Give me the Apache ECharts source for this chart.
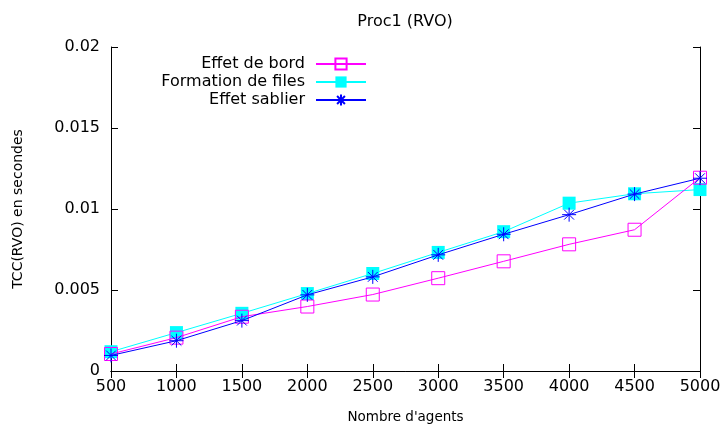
<!DOCTYPE html>
<html><head><meta charset="utf-8">
<script src="https://cdn.jsdelivr.net/npm/echarts@6/dist/echarts.min.js"></script>
<style>html,body{margin:0;padding:0;background:#fff}#c{width:723px;height:426px}</style>
</head><body><div id="c"></div>
<script>
const agents = [500,1000,1500,2000,2500,3000,3500,4000,4500,5000];
const effetDeBord = [0.00105,0.00206,0.00335,0.00398,0.00472,0.00573,0.00677,0.00782,0.00872,0.01193];
const formationDeFiles = [0.00119,0.00237,0.00356,0.00478,0.00602,0.00732,0.0086,0.01036,0.01094,0.0112];
const effetSablier = [0.00096,0.00187,0.00311,0.0047,0.00581,0.00717,0.00844,0.00965,0.01092,0.0119];
const seriesNames = ['Effet de bord','Formation de files','Effet sablier'];
const title = 'Proc1 (RVO)';
const xName = "Nombre d'agents";
const yName = 'TCC(RVO) en secondes';

const font = 'DejaVu Sans';
const asterisk = 'path://M0 -1L0 1M-1 0L1 0M-0.7 -0.7L0.7 0.7M-0.7 0.7L0.7 -0.7';
const pair = arr => agents.map((a,i)=>[a,arr[i]]);
const axisCommon = {
  axisLine:{show:true,lineStyle:{color:'#000',width:1}},
  axisTick:{show:true,inside:true,length:7,lineStyle:{color:'#000'}},
  splitLine:{show:false}
};
const chart = echarts.init(document.getElementById('c'));
chart.setOption({
  animation:false,
  backgroundColor:'#fff',
  title:{text:title,left:400,top:9,textAlign:'center',textStyle:{fontFamily:font,fontSize:16,fontWeight:'normal',color:'#000'}},
  grid:{left:111,right:23,top:47,bottom:55,outerBoundsMode:'none',containLabel:false},
  legend:{orient:'vertical',right:351,top:51,align:'right',itemWidth:50,itemHeight:14,itemGap:2,
    textStyle:{fontFamily:font,fontSize:16,color:'#000',padding:[0,6,0,0]},
    data:seriesNames},
  xAxis:[
    Object.assign({type:'value',min:500,max:5000,interval:500,name:xName,nameLocation:'middle',nameGap:39,
      nameTextStyle:{fontFamily:font,fontSize:13.5,color:'#000'},
      axisLabel:{fontFamily:font,fontSize:16,color:'#000',margin:8,formatter:v=>String(v)}},axisCommon),
    Object.assign({type:'value',position:'top',min:500,max:5000,interval:500,axisLabel:{show:false}},axisCommon)
  ],
  yAxis:[
    Object.assign({type:'value',min:0,max:0.02,interval:0.005,name:yName,nameLocation:'middle',nameGap:86,
      nameTextStyle:{fontFamily:font,fontSize:14,color:'#000'},
      axisLabel:{fontFamily:font,fontSize:16,color:'#000',margin:11,formatter:v=>String(Number(v.toFixed(4)))}},axisCommon),
    Object.assign({type:'value',position:'right',min:0,max:0.02,interval:0.005,axisLabel:{show:false}},axisCommon)
  ],
  series:[
    {name:seriesNames[0],type:'line',data:pair(effetDeBord),symbol:'rect',symbolSize:13,z:3,
      lineStyle:{color:'#ff00ff',width:1},itemStyle:{color:'rgba(255,255,255,0)',borderColor:'#ff00ff',borderWidth:1}},
    {name:seriesNames[1],type:'line',data:pair(formationDeFiles),symbol:'rect',symbolSize:13,z:2,
      lineStyle:{color:'#00ffff',width:1},itemStyle:{color:'#00ffff'}},
    {name:seriesNames[2],type:'line',data:pair(effetSablier),symbol:asterisk,symbolSize:14,z:4,
      lineStyle:{color:'#0000ff',width:1},itemStyle:{color:'#0000ff',borderColor:'#0000ff',borderWidth:1}}
  ]
});
</script></body></html>
